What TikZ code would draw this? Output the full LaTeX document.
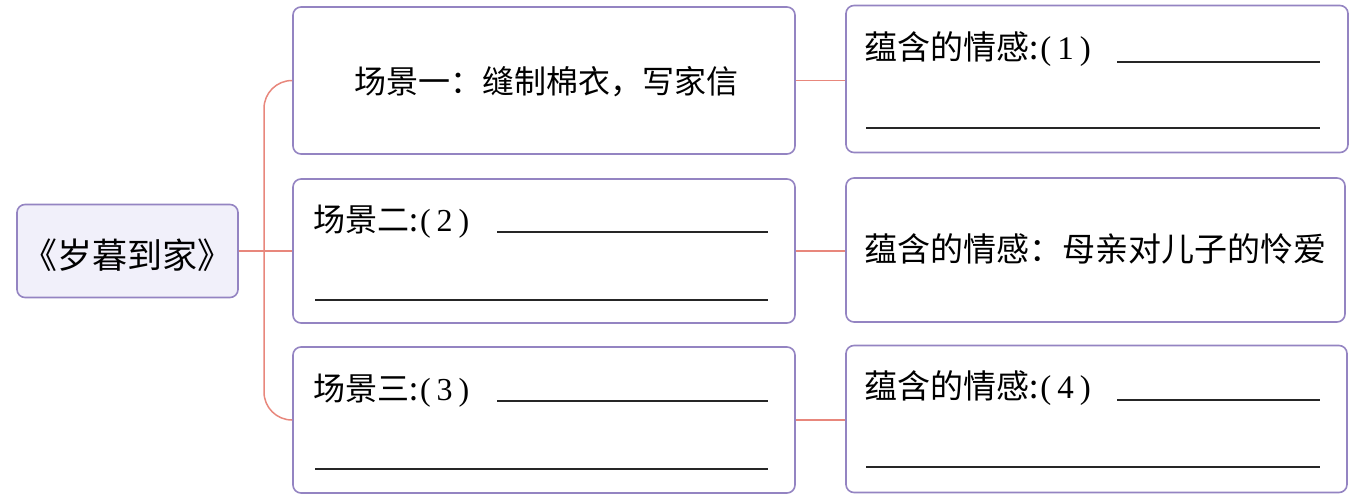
\documentclass[tikz,border=0pt]{standalone}
\usepackage{fontspec}
\newfontfamily\cjk{Noto Sans CJK SC}
\newfontfamily\ser{Liberation Serif}
\newcommand\pnum[1]{{\ser(\hspace{6pt}#1\hspace{6pt})}}
\definecolor{boxc}{HTML}{9484C2}
\definecolor{connc}{HTML}{E8877C}
\definecolor{rootfill}{HTML}{F1F0FA}
\begin{document}
\begin{tikzpicture}[x=1pt,y=-1pt,
  box/.style={draw=boxc, line width=1.6pt, rounded corners=8pt, fill=white, inner sep=0pt},
  conn/.style={draw=connc, line width=1.5pt},
  blank/.style={draw=black!85, line width=1.6pt},
  lbl/.style={inner sep=0pt, font=\cjk\fontsize{32}{36}\selectfont, anchor=base west},
  rlbl/.style={inner sep=0pt, font=\cjk\fontsize{33}{36}\selectfont, anchor=base west}]
\useasboundingbox (0,0) rectangle (1366,499);
% boxes
\node[box, fill=rootfill, minimum width=221pt, minimum height=93pt] (root) at (127.5,251) {};
\node[box, minimum width=502pt, minimum height=147pt] (m1) at (544,80.5) {};
\node[box, minimum width=502pt, minimum height=144pt] (m2) at (544,251) {};
\node[box, minimum width=502pt, minimum height=146pt] (m3) at (544,420) {};
\node[box, minimum width=502pt, minimum height=147pt] (r1) at (1097,79) {};
\node[box, minimum width=499pt, minimum height=144pt] (r2) at (1095.5,250) {};
\node[box, minimum width=501pt, minimum height=147pt] (r3) at (1096.5,419) {};
% connectors
\coordinate (j) at (264,251);
\draw[conn, rounded corners=28pt] (m1.west) -| (j) |- (m3.west);
\draw[conn] (root.east) -- (j) -- (m2.west);
\draw[conn] (m1.east) -- (m1.east -| r1.west);
\draw[conn] (m2.east) -- (m2.east -| r2.west);
\draw[conn] (m3.east) -- (m3.east -| r3.west);
% texts
\node[inner sep=0pt, font=\cjk\fontsize{35}{40}\selectfont] (troot) at (127.5,255) {《岁暮到家》};
\node[inner sep=0pt, font=\cjk\fontsize{32}{36}\selectfont] (tm1) at (546,82) {场景一：缝制棉衣，写家信};
\node[lbl] (tm2) at (313,231) {场景二:\hspace{2pt}\pnum{2}};
\node[lbl] (tm3) at (313,400) {场景三:\hspace{2pt}\pnum{3}};
\node[rlbl] (tr1) at (864,59) {蕴含的情感:\hspace{2pt}\pnum{1}};
\node[rlbl] (tr2) at (864,261) {蕴含的情感：母亲对儿子的怜爱};
\node[rlbl] (tr3) at (864,398) {蕴含的情感:\hspace{2pt}\pnum{4}};
% blanks
\draw[blank] (497,232) -- (768,232);
\draw[blank] (315,300) -- (768,300);
\draw[blank] (497,401) -- (768,401);
\draw[blank] (315,469) -- (768,469);
\draw[blank] (1117,62) -- (1320,62);
\draw[blank] (866,128) -- (1320,128);
\draw[blank] (1117,400) -- (1320,400);
\draw[blank] (866,467) -- (1320,467);
\end{tikzpicture}
\end{document}
